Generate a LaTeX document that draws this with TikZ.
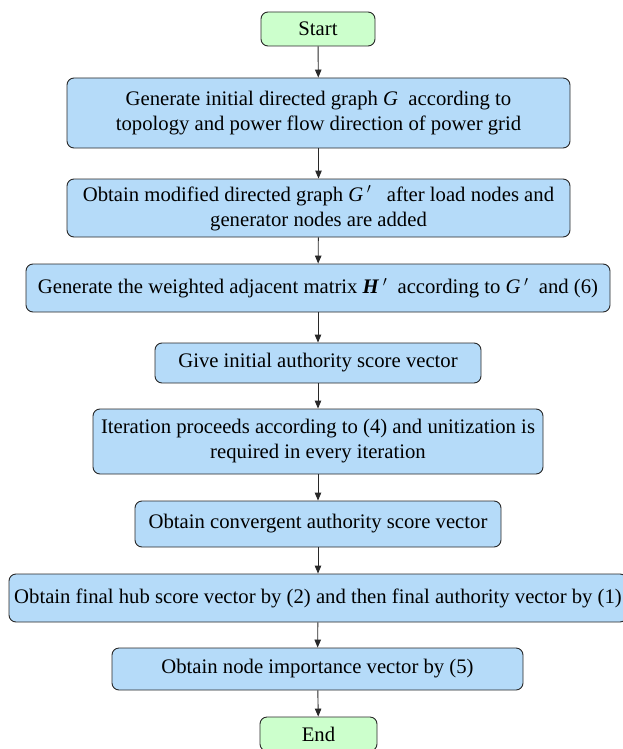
\documentclass[tikz,border=0pt]{standalone}
\usepackage{fontspec}
\setmainfont{Liberation Serif}
\usetikzlibrary{arrows.meta}
\definecolor{boxblue}{RGB}{181,219,249}
\definecolor{boxgreen}{RGB}{204,255,204}
\definecolor{edgegray}{RGB}{40,40,40}
\tikzset{
  stepbox/.style={draw=edgegray, line width=0.9pt, fill=boxblue, rounded corners=7pt,
    align=center, inner sep=0pt, font=\fontsize{20.7}{25}\selectfont},
  termbox/.style={stepbox, fill=boxgreen},
  conn/.style={draw=edgegray, line width=0.9pt, -{Triangle[length=8pt,width=6.5pt]}}
}
\begin{document}
\begin{tikzpicture}[x=1pt,y=1pt]
\useasboundingbox (0,0) rectangle (623,-749);
\node[termbox, minimum width=114pt, minimum height=34pt] (start) at (318,-29) {Start};
\node[stepbox, minimum width=503pt, minimum height=70pt] (b1) at (318.5,-113)
  {Generate initial directed graph \textit{G}\ \ according to\\topology and power flow direction of power grid};
\node[stepbox, minimum width=503pt, minimum height=58pt] (b2) at (318.5,-208)
  {Obtain modified directed graph \textit{G}$\,'$\ \ \ after load nodes and\\generator nodes are added};
\node[stepbox, minimum width=584pt, minimum height=48pt] (b3) at (318,-288)
  {Generate the weighted adjacent matrix \textbf{\textit{H}}$\,'$\ \ according to \textit{G}$\,'$\ \ and (6)};
\node[stepbox, minimum width=326pt, minimum height=40pt] (b4) at (318,-363)
  {Give initial authority score vector};
\node[stepbox, minimum width=450pt, minimum height=65pt] (b5) at (318,-441.5)
  {Iteration proceeds according to (4) and unitization is\\required in every iteration};
\node[stepbox, minimum width=366pt, minimum height=46pt] (b6) at (318,-524)
  {Obtain convergent authority score vector};
\node[stepbox, minimum width=618pt, minimum height=48pt] (b7) at (318,-598)
  {Obtain final hub score vector by (2) and then final authority vector by (1)};
\node[stepbox, minimum width=411pt, minimum height=42pt] (b8) at (317.5,-669)
  {Obtain node importance vector by (5)};
\node[termbox, minimum width=117pt, minimum height=34pt] (end) at (318.5,-734) {End};
\draw[conn] (start) -- (b1);
\draw[conn] (b1) -- (b2);
\draw[conn] (b2) -- (b3);
\draw[conn] (b3) -- (b4);
\draw[conn] (b4) -- (b5);
\draw[conn] (b5) -- (b6);
\draw[conn] (b6) -- (b7);
\draw[conn] (b7) -- (b8);
\draw[conn] (b8) -- (end);
\end{tikzpicture}
\end{document}
